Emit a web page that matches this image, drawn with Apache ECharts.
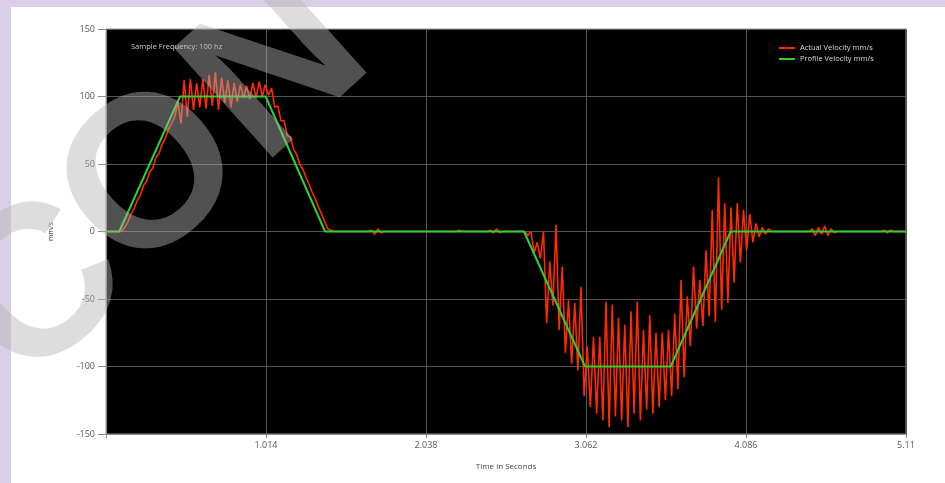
<!DOCTYPE html>
<html>
<head>
<meta charset="utf-8">
<script src="https://cdn.jsdelivr.net/npm/echarts@6/dist/echarts.min.js"></script>
<style>
  html, body { margin: 0; padding: 0; background: #dacfe8; }
  #card { position: absolute; left: 11px; top: 7px; width: 934px; height: 476px; background: #ffffff; }
  #chart { position: absolute; left: 0; top: 0; width: 945px; height: 483px; }
</style>
</head>
<body>
<div id="card"></div>
<div id="chart"></div>
<script>
// ---- data ----
const xTickLabels = [1.014, 2.038, 3.062, 4.086, 5.11];
const xMin = -0.01, xMax = 5.11;
const yTicks = [-150, -100, -50, 0, 50, 100, 150];

// Profile velocity (mm/s): trapezoid corners
const profileTimes  = [-0.01, 0.075, 0.464, 1.012, 1.392, 2.665, 3.056, 3.604, 3.988, 5.11];
const profileValues = [0, 0, 100, 100, 0, 0, -100, -100, 0, 0];

// Actual velocity (mm/s), sampled every 0.02 s starting at -0.01 s
const actualStart = -0.01;
const actualStep = 0.02;
const actualValues = [
  0,0,0,0,0,0,3,7,13,17,
  23,27,34,37,44,47,55,58,65,69,
  76,80,85,96,80,112,85,113,90,110,
  92,113,91,116,93,118,90,114,95,112,
  92,110,96,109,99,108,98,110,99,111,
  100,109,101,106,92,93,82,82,71,70,
  61,57,50,46,40,35,29,24,18,13,
  7,2,1,0,0,0,0,0,0,0,
  0,0,0,0,0,1,-2,2,-1,0,
  0,0,0,0,0,0,0,0,0,0,
  0,0,0,0,0,0,0,0,0,0,
  0,0,0,1,0,0,0,0,0,0,
  0,0,0,1,-1,2,-1,0,0,0,
  0,0,0,0,0,-3,0,-16,-8,-20,
  0,-68,-22,-55,5,-73,-26,-90,-51,-98,
  -53,-103,-41,-122,-85,-130,-78,-135,-78,-140,
  -52,-145,-54,-137,-64,-140,-69,-145,-59,-135,
  -52,-140,-73,-132,-62,-135,-75,-130,-75,-125,
  -73,-122,-61,-117,-36,-108,-48,-85,-26,-72,
  -36,-70,-14,-63,16,-67,40,-58,21,-53,
  18,-38,21,-23,16,-14,13,-8,6,-4,
  3,-2,2,0,0,0,0,0,0,0,
  0,0,0,0,0,0,2,-3,3,-2,
  4,-3,2,-1,0,0,0,0,0,0,
  0,0,0,0,0,0,0,0,0,1,
  -1,1,0,0,0,0,0
];

const seriesNames = ['Actual Velocity mm/s', 'Profile Velocity mm/s'];
const noteText = 'Sample Frequency: 100 hz';
const watermarkLetters = ['C', 'O', 'N'];
// ---------------------------------------

const actualData = actualValues.map((v, i) => [+(actualStart + i * actualStep).toFixed(2), v]);
const profileData = profileTimes.map((t, i) => [t, profileValues[i]]);

const chart = echarts.init(document.getElementById('chart'), null, { renderer: 'canvas' });
const FONT = '"Open Sans", "DejaVu Sans", sans-serif';
const wmPos = [[42, 293], [155, 181], [280, 71]];
const wmRot = 42 * Math.PI / 180;

chart.setOption({
  animation: false,
  backgroundColor: 'transparent',
  textStyle: { fontFamily: FONT },
  grid: {
    left: 106, top: 29, right: 39, bottom: 49,
    show: true, backgroundColor: '#000000', borderColor: '#9a9a9a', borderWidth: 1
  },
  legend: {
    orient: 'vertical', left: 779, top: 44, padding: 0,
    icon: 'rect', itemWidth: 16, itemHeight: 2, itemGap: 3,
    textStyle: { color: '#dddddd', fontSize: 7.5, fontFamily: FONT },
    data: seriesNames
  },
  xAxis: {
    type: 'value', min: xMin, max: xMax,
    name: 'Time in Seconds', nameLocation: 'middle', nameGap: 29,
    nameTextStyle: { color: '#444', fontSize: 8, fontFamily: FONT },
    axisLine: { show: true, onZero: false, lineStyle: { color: '#8a8a8a', width: 1 } },
    axisTick: { show: true, length: 4, customValues: [xMin].concat(xTickLabels), lineStyle: { color: '#8a8a8a' } },
    axisLabel: { color: '#555', fontSize: 9, margin: 7, customValues: xTickLabels, showMaxLabel: true,
                 formatter: v => String(+v.toFixed(3)) },
    splitLine: { show: true, lineStyle: { color: '#555555', width: 1 } }
  },
  yAxis: {
    type: 'value', min: -150, max: 150, interval: 50,
    name: 'mm/s', nameLocation: 'middle', nameGap: 52, nameRotate: 90,
    nameTextStyle: { color: '#444', fontSize: 7, fontFamily: FONT },
    axisLine: { show: true, onZero: false, lineStyle: { color: '#8a8a8a', width: 1 } },
    axisTick: { show: true, length: 8, lineStyle: { color: '#8a8a8a' } },
    axisLabel: { color: '#555', fontSize: 9, margin: 11 },
    splitLine: { show: true, lineStyle: { color: '#555555', width: 1 } }
  },
  graphic: [
    {
      type: 'text', left: 131, top: 43, z: 50,
      style: { text: noteText, fill: '#cfcfcf', font: '7.5px ' + FONT }
    }
  ].concat(watermarkLetters.map((ch, k) => ({
    type: 'text', x: wmPos[k][0], y: wmPos[k][1], rotation: wmRot, z: 100,
    silent: true,
    style: {
      text: ch, fill: 'rgba(179,179,179,0.45)',
      font: 'bold 215px "Liberation Sans", "DejaVu Sans", sans-serif',
      align: 'center', verticalAlign: 'middle', textAlign: 'center', textVerticalAlign: 'middle'
    }
  }))),
  series: [
    {
      name: seriesNames[0], type: 'line', data: actualData,
      symbol: 'none', showSymbol: false,
      lineStyle: { color: '#ff2a00', width: 1.6 }, itemStyle: { color: '#ff2a00' }, z: 2
    },
    {
      name: seriesNames[1], type: 'line', data: profileData,
      symbol: 'none', showSymbol: false,
      lineStyle: { color: '#2fd02f', width: 2 }, itemStyle: { color: '#2fd02f' }, z: 3
    }
  ]
});
</script>
</body>
</html>
